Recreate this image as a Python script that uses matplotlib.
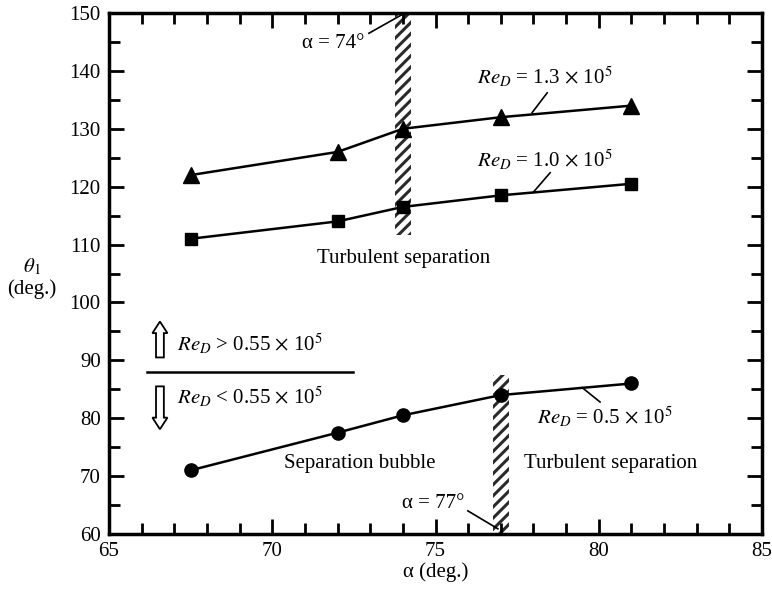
import matplotlib
matplotlib.use("Agg")
import matplotlib.pyplot as plt
from matplotlib.ticker import MultipleLocator
from matplotlib.patches import FancyArrow

plt.rcParams['font.family'] = ['Liberation Serif', 'DejaVu Serif']
plt.rcParams['mathtext.fontset'] = 'stix'
plt.rcParams['hatch.linewidth'] = 2.2

# attack angle (deg.)
alpha = [67.5, 72, 74, 77, 81]

# separation angle for each Reynolds number
theta_re13 = [122, 126, 130, 132, 134]
theta_re10 = [111, 114, 116.5, 118.5, 120.5]
theta_re05 = [71, 77.5, 80.5, 84, 86]

# transition zones: (alpha, theta bottom, theta top)
zone_74 = (74, 111.7, 150)
zone_77 = (77, 60, 87.5)

fig = plt.figure(figsize=(7.72, 5.94), dpi=100)
ax = fig.add_axes([109 / 772, 60 / 594, 653 / 772, 521 / 594])

fs = 15


def leader(x0, y0, x1, y1):
    ax.plot([x0, x1], [y0, y1], color='black', lw=1.2, clip_on=False)


# hatched transition bands
for a, lo, hi in (zone_74, zone_77):
    ax.bar(a, hi - lo, bottom=lo, width=0.5, facecolor='white',
           edgecolor='#2a2a2a', hatch='///', linewidth=0, zorder=1)

ax.plot(alpha, theta_re13, '-^', color='black', lw=1.8, ms=11, zorder=3)
ax.plot(alpha, theta_re10, '-s', color='black', lw=1.8, ms=9, zorder=3)
ax.plot(alpha, theta_re05, '-o', color='black', lw=1.8, ms=9.5, zorder=3)

ax.set_xlim(65, 85)
ax.set_ylim(60, 150)
ax.xaxis.set_major_locator(MultipleLocator(5))
ax.xaxis.set_minor_locator(MultipleLocator(1))
ax.yaxis.set_major_locator(MultipleLocator(10))
ax.yaxis.set_minor_locator(MultipleLocator(5))
ax.tick_params(which='both', direction='in', top=True, right=True,
               width=2, labelsize=fs, pad=6)
ax.tick_params(which='major', length=11)
ax.tick_params(which='minor', length=8)
for sp in ax.spines.values():
    sp.set_linewidth(2.5)

ax.set_xlabel('\u03b1 (deg.)', fontsize=fs, labelpad=1)
fig.text(32 / 772, 1 - 278 / 594, r'$\theta_1$' + '\n(deg.)', fontsize=fs,
         ha='center', va='center', linespacing=1.15)

# curve labels with leader lines
ax.text(78.35, 137.6, r'$Re_D$ = 1.3 $\times$ 10$^5$', fontsize=fs,
        ha='center', va='baseline')
leader(78.42, 136.2, 77.96, 132.8)
ax.text(78.35, 123.4, r'$Re_D$ = 1.0 $\times$ 10$^5$', fontsize=fs,
        ha='center', va='baseline')
leader(78.51, 122.4, 77.99, 119.0)
ax.text(80.19, 79.0, r'$Re_D$ = 0.5 $\times$ 10$^5$', fontsize=fs,
        ha='center', va='baseline')
leader(79.49, 85.3, 80.04, 82.8)

ax.text(71.86, 144.8, '\u03b1 = 74°', fontsize=fs, ha='center', va='center')
leader(72.96, 146.5, 74.0, 149.8)
ax.text(74.92, 65.2, '\u03b1 = 77°', fontsize=fs, ha='center', va='center')
leader(75.99, 64.0, 76.91, 60.9)

ax.text(74.03, 107.6, 'Turbulent separation', fontsize=fs, ha='center', va='center')
ax.text(72.67, 72.1, 'Separation bubble', fontsize=fs, ha='center', va='center')
ax.text(80.35, 72.1, 'Turbulent separation', fontsize=fs, ha='center', va='center')

# regime divider with hollow arrows
ax.plot([66.16, 72.47], [87.93, 87.93], color='black', lw=1.8, clip_on=False)
ax.add_patch(FancyArrow(66.56, 90.5, 0, 6.2, width=0.24, head_width=0.46,
                        head_length=2.0, length_includes_head=True,
                        facecolor='white', edgecolor='black', lw=1.3))
ax.add_patch(FancyArrow(66.56, 85.5, 0, -7.4, width=0.24, head_width=0.46,
                        head_length=2.0, length_includes_head=True,
                        facecolor='white', edgecolor='black', lw=1.3))
ax.text(67.08, 91.55, r'$Re_D$ > 0.55 $\times$ 10$^5$', fontsize=fs,
        ha='left', va='baseline')
ax.text(67.08, 82.4, r'$Re_D$ < 0.55 $\times$ 10$^5$', fontsize=fs,
        ha='left', va='baseline')

fig.savefig('out.png', dpi=100)
